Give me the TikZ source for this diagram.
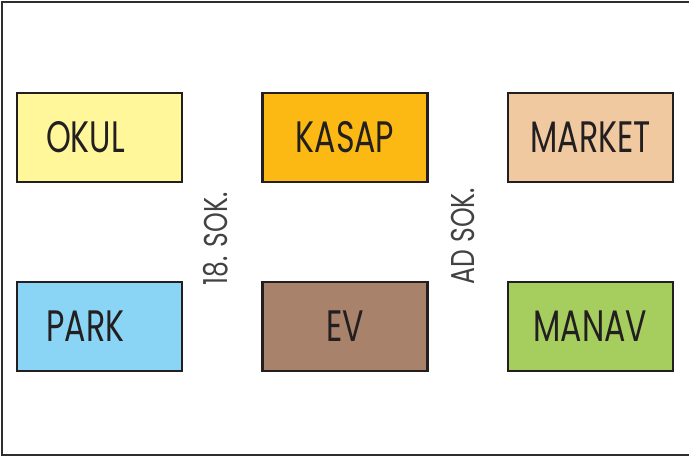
\documentclass[tikz,border=0pt]{standalone}
\usepackage{fontspec}
\setmainfont{Poppins}
\newfontfamily\yeryazi[FakeStretch=0.72]{Poppins}
\newfontfamily\sokakyazi[FakeStretch=0.76]{Poppins}
\definecolor{kontur}{HTML}{231F20}
\definecolor{cerceve}{HTML}{2E2E2E}
\definecolor{okulrenk}{HTML}{FFF799}
\definecolor{kasaprenk}{HTML}{FDB913}
\definecolor{marketrenk}{HTML}{F0C9A0}
\definecolor{parkrenk}{HTML}{8AD5F5}
\definecolor{evrenk}{HTML}{A8826A}
\definecolor{manavrenk}{HTML}{A6CE5F}

\begin{document}
\begin{tikzpicture}[x=1pt,y=-1pt,
	yer/.style={draw=kontur,line width=2.8pt,minimum width=165pt,minimum height=89pt,inner sep=0pt,text=kontur,font=\yeryazi\fontsize{44}{44}\selectfont},
	sokak/.style={rotate=90,inner sep=0pt,text=kontur!85,font=\sokakyazi\fontsize{33}{33}\selectfont}]
		\useasboundingbox (0,0) rectangle (689,457);
		\draw[cerceve,line width=2.8pt] (689,2) -- (2,2) -- (2,455) -- (689,455);
		\draw node at (99.5,137.5) [yer,fill=okulrenk] (okul) {OKUL\kern28pt};
		\draw node at (345,137.5) [yer,fill=kasaprenk] (kasap) {KASAP};
		\draw node at (590.5,137.5) [yer,fill=marketrenk] (market) {MARKET};
		\draw node at (99.5,326.5) [yer,fill=parkrenk] (park) {PARK\kern28pt};
		\draw node at (345,326.5) [yer,fill=evrenk] (ev) {EV};
		\draw node at (590.5,326.5) [yer,fill=manavrenk] (manav) {MANAV};
		\draw node at (216,239) [sokak] (sok18) {18. SOK.};
		\draw node at (463,236) [sokak] (sokad) {AD SOK.};
	\end{tikzpicture}
\end{document}
